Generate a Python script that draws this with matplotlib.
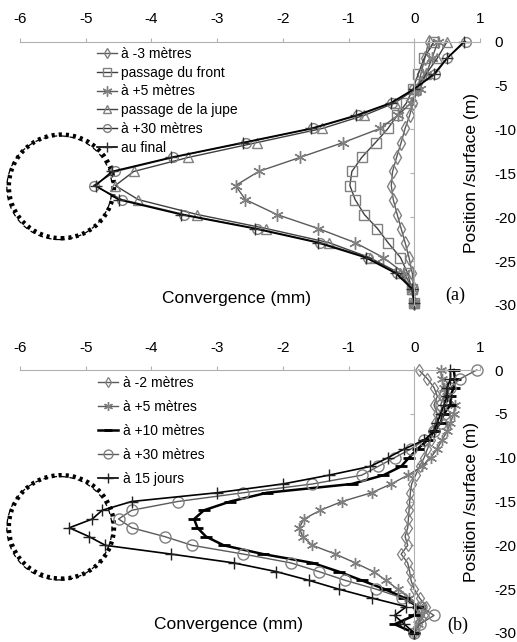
import matplotlib
matplotlib.use('Agg')
import matplotlib.pyplot as plt
from matplotlib.patches import Ellipse

plt.rcParams['font.family'] = ['Liberation Sans', 'DejaVu Sans']
plt.rcParams['axes.unicode_minus'] = False

# ---------------- data : panel (a) ----------------
depth_a = [0, -1.9, -3.7, -5.4, -7.0, -8.4, -9.9, -11.5, -13.2, -14.8, -16.4,
           -18.0, -19.7, -21.3, -22.9, -24.6, -26.4, -28.2, -29.8]
a_moins3m = [0.22, 0.16, 0.10, 0.05, -0.02, -0.07, -0.14, -0.20, -0.27, -0.33, -0.35,
             -0.32, -0.26, -0.20, -0.14, -0.08, -0.03, -0.01, 0.0]
a_front = [0.30, 0.15, 0.06, -0.02, -0.12, -0.26, -0.40, -0.59, -0.80, -0.95, -0.98,
           -0.90, -0.76, -0.56, -0.40, -0.21, -0.10, -0.04, 0.0]
a_plus5m = [0.36, 0.27, 0.18, 0.09, -0.05, -0.25, -0.52, -1.08, -1.74, -2.37, -2.72,
            -2.57, -2.09, -1.46, -0.90, -0.47, -0.15, -0.03, 0.0]
a_jupe = [0.50, 0.35, 0.18, 0.02, -0.30, -0.76, -1.40, -2.39, -3.44, -4.27, -4.55,
          -4.20, -3.30, -2.25, -1.30, -0.68, -0.22, -0.03, 0.0]
a_plus30m = [0.78, 0.50, 0.32, 0.0, -0.34, -0.85, -1.54, -2.56, -3.67, -4.55, -4.88,
             -4.45, -3.50, -2.39, -1.43, -0.70, -0.26, -0.02, 0.0]
a_final = [0.76, 0.50, 0.30, 0.0, -0.36, -0.88, -1.57, -2.60, -3.70, -4.60, -4.85,
           -4.50, -3.55, -2.43, -1.47, -0.74, -0.28, -0.03, 0.0]
labels_a = ['à -3 mètres', 'passage du front', 'à +5 mètres',
            'passage de la jupe', 'à +30 mètres', 'au final']

# ---------------- data : panel (b) ----------------
depth_b = [0, -1, -2, -3, -4, -5, -6, -7, -8, -9, -10, -11, -12, -13, -14, -15,
           -16, -17, -18, -19, -20, -21, -22, -23, -24, -25, -26, -27, -28, -29, -30]
b_moins2m = [0.07, 0.20, 0.30, 0.35, 0.30, 0.35, 0.32, 0.28, 0.25, 0.20, 0.15,
             0.08, 0.02, -0.04, -0.06, -0.07, -0.08, -0.09, -0.10, -0.14, -0.10,
             -0.20, -0.10, -0.07, -0.05, 0.0, 0.08, 0.18, 0.15, 0.05, 0.0]
b_plus5m = [0.40, 0.42, 0.45, 0.50, 0.62, 0.60, 0.55, 0.50, 0.42, 0.35, 0.25,
            0.12, -0.10, -0.35, -0.65, -1.10, -1.43, -1.68, -1.75, -1.70, -1.55,
            -1.20, -0.90, -0.62, -0.43, -0.25, -0.08, 0.05, 0.10, 0.05, 0.0]
b_plus10m = [0.60, 0.62, 0.60, 0.55, 0.55, 0.45, 0.40, 0.30, 0.20, 0.05, -0.08,
             -0.20, -0.47, -0.95, -2.24, -2.80, -3.20, -3.35, -3.30, -3.17, -2.90,
             -2.30, -1.55, -1.15, -0.80, -0.45, -0.15, 0.05, 0.0, -0.30, 0.0]
b_plus30m = [0.95, 0.70, 0.55, 0.45, 0.40, 0.45, 0.40, 0.30, 0.15, -0.05, -0.30,
             -0.55, -0.80, -1.55, -2.60, -3.60, -4.30, -4.50, -4.30, -3.80, -3.38,
             -2.60, -1.88, -1.45, -1.05, -0.58, -0.18, 0.10, 0.30, 0.08, 0.0]
b_15jours = [0.55, 0.55, 0.50, 0.50, 0.45, 0.40, 0.35, 0.30, 0.15, -0.15, -0.40,
             -0.67, -1.30, -2.00, -3.00, -4.30, -4.75, -4.90, -5.25, -4.95, -4.70,
             -3.70, -2.75, -2.10, -1.60, -1.15, -0.65, -0.12, -0.30, -0.15, 0.0]
labels_b = ['à -2 mètres', 'à +5 mètres', 'à +10 mètres', 'à +30 mètres', 'à 15 jours']

# tunnel outline (centre x, centre depth) and half-axes in data units
tunnel_center_a = (-5.37, -16.5)
tunnel_center_b = (-5.37, -17.9)
tunnel_rx = 0.80
tunnel_ry = 5.9

x_ticks = [-6, -5, -4, -3, -2, -1, 0, 1]
y_ticks = [0, -5, -10, -15, -20, -25, -30]
x_label = 'Convergence (mm)'
y_label = 'Position /surface (m)'

# ---------------- figure ----------------
W, H = 517, 642
fig = plt.figure(figsize=(W / 100, H / 100), dpi=100)
ax_a = fig.add_axes([20 / W, 1 - 305 / H, 460 / W, 263.5 / H])
ax_b = fig.add_axes([20 / W, 1 - 633 / H, 460 / W, 263 / H])

GRAY = '#808080'
LGRAY = '#5a5a5a'


def style(ax, xlab_x, xlab_y):
    ax.set_xlim(-6, 1)
    ax.set_ylim(-30, 0)
    for s in ['right', 'bottom']:
        ax.spines[s].set_visible(False)
    ax.spines['left'].set_position(('data', 0))
    ax.spines['left'].set_color('#b0b0b0')
    ax.spines['top'].set_color('#b0b0b0')
    ax.spines['left'].set_linewidth(0.8)
    ax.spines['top'].set_linewidth(0.8)
    ax.set_xticks(x_ticks)
    ax.set_xticklabels([str(t) for t in x_ticks])
    ax.set_yticks(y_ticks)
    ax.set_yticklabels([str(t) for t in y_ticks])
    ax.tick_params(axis='x', bottom=False, top=True, labelbottom=False, labeltop=True,
                   direction='out', length=3, width=0.8, color='#b0b0b0',
                   pad=8, labelsize=11)
    ax.tick_params(axis='y', left=True, right=False, labelleft=False, labelright=True,
                   direction='out', length=3, width=0.8, color='#b0b0b0',
                   pad=7, labelsize=11)
    ax.set_xlabel(x_label, fontsize=12.5)
    ax.xaxis.set_label_coords(xlab_x, xlab_y)
    ax.xaxis.label.set_va('center')
    ax.set_ylabel(y_label, fontsize=12.5)
    ax.yaxis.set_label_coords(0.982, 0.5)
    ax.yaxis.label.set_va('center')
    ax.patch.set_visible(False)


def tunnel(ax, c):
    ax.add_patch(Ellipse(c, 2 * tunnel_rx, 2 * tunnel_ry, fill=False, ls=(0, (0.7, 0.9)),
                         lw=3.2, color='black', clip_on=False, zorder=1))
    ax.add_patch(Ellipse((c[0] - 0.03, c[1] - 0.15), 2 * tunnel_rx, 2 * tunnel_ry,
                         fill=False, ls=(0, (4, 3)), lw=0.9, color='black',
                         clip_on=False, zorder=1))


# ---- panel (a)
tunnel(ax_a, tunnel_center_a)
kw = dict(clip_on=False, mfc='none')
ax_a.plot(a_moins3m, depth_a, color=LGRAY, lw=1.0, marker='d', ms=7, mec=GRAY, mew=1.0,
          label=labels_a[0], **kw)
ax_a.plot(a_front, depth_a, color='#404040', lw=1.0, marker='s', ms=7, mec=GRAY, mew=1.0,
          label=labels_a[1], **kw)
ax_a.plot(a_plus5m, depth_a, color=LGRAY, lw=1.0, marker=(6, 2, 0), ms=9, mec=GRAY,
          mew=1.0, label=labels_a[2], **kw)
ax_a.plot(a_jupe, depth_a, color='#404040', lw=1.0, marker='^', ms=7, mec=GRAY, mew=1.0,
          label=labels_a[3], **kw)
ax_a.plot(a_plus30m, depth_a, color='#303030', lw=1.0, marker='o', ms=7, mec=GRAY, mew=1.0,
          label=labels_a[4], **kw)
ax_a.plot(a_final, depth_a, color='black', lw=1.2, marker='+', ms=9, mec='#303030',
          mew=1.0, label=labels_a[5], **kw)
style(ax_a, (236 - 20) / 460, (305 - 298) / 263.5)
ax_a.legend(loc='upper left', bbox_to_anchor=(0.167, 0.979), frameon=False, fontsize=10,
            handlelength=1.45, handletextpad=0.3, labelspacing=0.34, borderpad=0,
            borderaxespad=0, numpoints=1, markerscale=0.8)
ax_a.text((455 - 20) / 460, (305 - 295) / 263.5, '(a)', transform=ax_a.transAxes,
          fontsize=13, family='Liberation Serif', ha='center', va='center')

# ---- panel (b)
tunnel(ax_b, tunnel_center_b)
ax_b.plot(b_moins2m, depth_b, color=LGRAY, lw=1.0, marker='d', ms=6, mec=GRAY, mew=0.9,
          label=labels_b[0], **kw)
ax_b.plot(b_plus5m, depth_b, color=LGRAY, lw=1.0, marker=(6, 2, 0), ms=8, mec=GRAY,
          mew=1.0, label=labels_b[1], **kw)
ax_b.plot(b_plus10m, depth_b, color='black', lw=1.8, marker='_', ms=8, mec='black',
          mew=2.0, label=labels_b[2], **kw)
ax_b.plot(b_plus30m, depth_b, color=LGRAY, lw=1.0, marker='o', ms=8, mec=GRAY, mew=1.0,
          label=labels_b[3], **kw)
ax_b.plot(b_15jours, depth_b, color='black', lw=1.2, marker='+', ms=9, mec='#202020',
          mew=1.0, label=labels_b[4], **kw)
style(ax_b, (229 - 20) / 460, (633 - 624) / 263)
ax_b.legend(loc='upper left', bbox_to_anchor=(0.170, 0.979), frameon=False, fontsize=10,
            handlelength=1.45, handletextpad=0.3, labelspacing=0.72, borderpad=0,
            borderaxespad=0, numpoints=1, markerscale=0.8)
ax_b.text((458 - 20) / 460, (633 - 625) / 263, '(b)', transform=ax_b.transAxes,
          fontsize=13, family='Liberation Serif', ha='center', va='center')

fig.savefig('out.png', dpi=100)
